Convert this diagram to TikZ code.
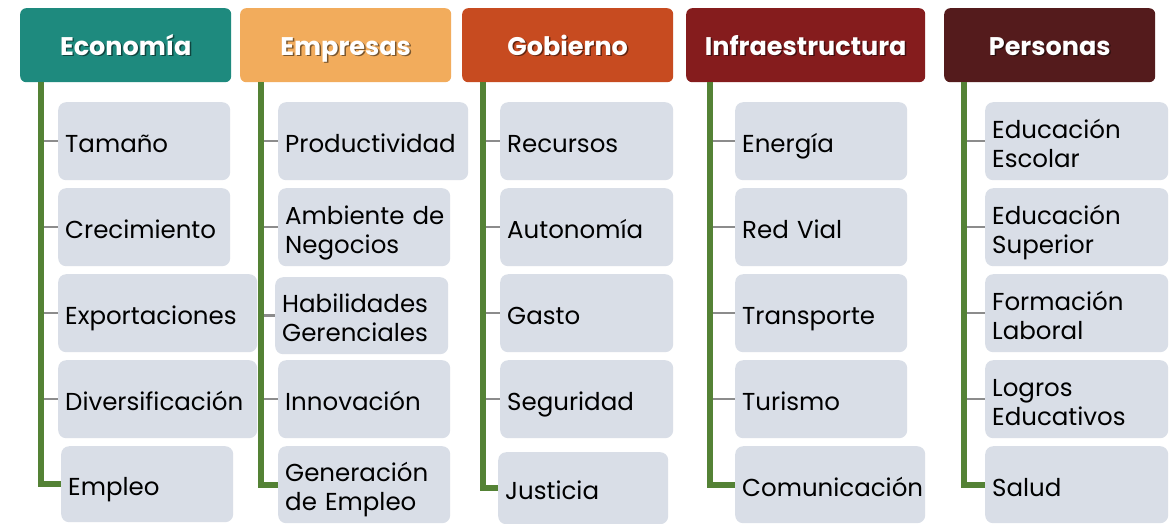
\documentclass[tikz,border=0pt]{standalone}
\usepackage{fontspec}
\setmainfont{Poppins}
\usetikzlibrary{calc}
\definecolor{cEco}{HTML}{1E8A7E}
\definecolor{cEmp}{HTML}{F2AC5C}
\definecolor{cGob}{HTML}{C74B20}
\definecolor{cInf}{HTML}{851C1D}
\definecolor{cPer}{HTML}{541B1C}
\definecolor{boxc}{HTML}{D9DEE7}
\definecolor{trunkc}{HTML}{548235}
\definecolor{tickc}{HTML}{8C8C8C}
\newcommand{\shtext}[2]{\leavevmode\rlap{\kern1.5pt\raisebox{-1.5pt}{\color{#1!50!black}#2}}#2}
\begin{document}
\begin{tikzpicture}[x=1pt,y=-1pt,
  hdr/.style={fill=#1, rounded corners=6pt, anchor=north west, minimum height=74pt,
    inner sep=0pt, text=white, text height=20pt, text depth=0pt,
    font=\fontsize{25.5}{30}\selectfont\bfseries},
  cbox/.style={fill=boxc, rounded corners=8pt, anchor=north west, inner xsep=7pt,
    inner ysep=0pt, align=left, font=\fontsize{24.5}{29}\selectfont, text=black,
    text height=23pt, text depth=0pt},
  cboxt/.style={cbox, text depth=29pt},
  trunk/.style={draw=trunkc, line width=6pt},
  tick/.style={draw=tickc, line width=2.5pt}]
\useasboundingbox (0,0) rectangle (1174,523);
\fill[white] (0,0) rectangle (1174,523);
% headers
\node[hdr=cEco, minimum width=211pt] (h1) at (20,8) {\shtext{cEco}{Economía}};
\node[hdr=cEmp, minimum width=211pt] (h2) at (240,8) {\shtext{cEmp}{Empresas}};
\node[hdr=cGob, minimum width=211pt] (h3) at (462,8) {\shtext{cGob}{Gobierno}};
\node[hdr=cInf, minimum width=239pt] (h4) at (686,8) {\shtext{cInf}{Infraestructura}};
\node[hdr=cPer, minimum width=211pt] (h5) at (944,8) {\shtext{cPer}{Personas}};
% Economia
\node[cbox, text width=158pt, minimum height=78pt] (a1) at (58,102) {Tamaño};
\node[cbox, text width=158pt, minimum height=78pt] (a2) at (58,188) {Crecimiento};
\node[cbox, text width=185pt, minimum height=78pt] (a3) at (58,274) {Exportaciones};
\node[cbox, text width=185pt, minimum height=78pt] (a4) at (58,360) {Diversificación};
\node[cbox, text width=158pt, minimum height=76pt] (a5) at (61,446) {Empleo};
% Empresas
\node[cbox, text width=176pt, minimum height=78pt] (b1) at (278,102) {Productividad};
\node[cboxt, text width=158pt, minimum height=78pt] (b2) at (278,188) {\mbox{Ambiente de}\\Negocios};
\node[cboxt, text width=159pt, minimum height=77pt] (b3) at (275,277) {Habilidades\\Gerenciales};
\node[cbox, text width=158pt, minimum height=78pt] (b4) at (278,360) {Innovación};
\node[cboxt, text width=158pt, minimum height=77pt] (b5) at (278,446) {Generación\\\mbox{de Empleo}};
% Gobierno
\node[cbox, text width=159pt, minimum height=78pt] (c1) at (500,102) {Recursos};
\node[cbox, text width=159pt, minimum height=78pt] (c2) at (500,188) {Autonomía};
\node[cbox, text width=159pt, minimum height=78pt] (c3) at (500,274) {Gasto};
\node[cbox, text width=159pt, minimum height=78pt] (c4) at (500,360) {Seguridad};
\node[cbox, text width=156pt, minimum height=72pt] (c5) at (498,452) {Justicia};
% Infraestructura
\node[cbox, text width=158pt, minimum height=78pt] (d1) at (735,102) {Energía};
\node[cbox, text width=158pt, minimum height=78pt] (d2) at (735,188) {\mbox{Red Vial}};
\node[cbox, text width=158pt, minimum height=78pt] (d3) at (735,274) {Transporte};
\node[cbox, text width=158pt, minimum height=78pt] (d4) at (735,360) {Turismo};
\node[cbox, text width=176pt, minimum height=77pt] (d5) at (735,446) {Comunicación};
% Personas
\node[cboxt, text width=169pt, minimum height=78pt] (e1) at (985,102) {Educación\\Escolar};
\node[cboxt, text width=169pt, minimum height=78pt] (e2) at (985,188) {Educación\\Superior};
\node[cboxt, text width=169pt, minimum height=78pt] (e3) at (985,274) {Formación\\Laboral};
\node[cboxt, text width=169pt, minimum height=78pt] (e4) at (985,360) {Logros\\Educativos};
\node[cbox, text width=169pt, minimum height=77pt] (e5) at (985,446) {Salud};
% trunks
\coordinate (t1) at ($(h1.south west)+(20.5,0)$);
\coordinate (t2) at ($(h2.south west)+(20.5,0)$);
\coordinate (t3) at ($(h3.south west)+(21,0)$);
\coordinate (t4) at ($(h4.south west)+(23.5,0)$);
\coordinate (t5) at ($(h5.south west)+(20,0)$);
\foreach \t/\c in {t1/a, t2/b, t3/c, t4/d, t5/e}{
  \foreach \i in {1,...,4}{
    \draw[tick] (\t |- \c\i.west) -- (\c\i.west);
  }
  \draw[trunk] (\t) |- (\c5.west);
}
\end{tikzpicture}
\end{document}
